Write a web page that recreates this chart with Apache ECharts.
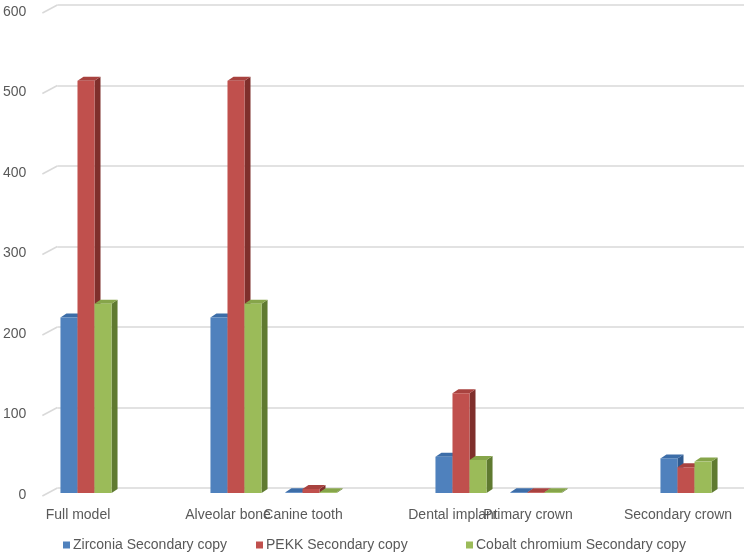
<!DOCTYPE html>
<html>
<head>
<meta charset="utf-8">
<script src="https://cdn.jsdelivr.net/npm/echarts@6/dist/echarts.min.js"></script>
<style>
  html, body { margin: 0; padding: 0; background: #fff; }
  #main { width: 744px; height: 555px; }
</style>
</head>
<body>
<div id="main"></div>
<script>
// categories as laid out in the source sheet (empty rows keep their slot)
const categories = ['Full model', '', 'Alveolar bone', 'Canine tooth', '', 'Dental implant', 'Primary crown', '', 'Secondary crown'];
const zirconia = [218, null, 218, 1, null, 45, 1, null, 43];
const pekk     = [512, null, 512, 5, null, 124, 1, null, 32];
const cobalt   = [235, null, 235, 1, null, 41, 1, null, 39];
const yTicks = [0, 100, 200, 300, 400, 500, 600];

const seriesNames = ['Zirconia Secondary copy', 'PEKK Secondary copy', 'Cobalt chromium Secondary copy'];
// front / side / top shades (Excel 2007 palette)
const shades = [
  ['#4F81BD', '#2F5A8F', '#3C6DA8'],
  ['#C0504D', '#7F2F2C', '#A8423F'],
  ['#9BBB59', '#5F7A30', '#86A54A']
];

const myChart = echarts.init(document.getElementById('main'));
const DX = 6, DY = 4, SHIFT = 5; // fake 3d depth

function barRender(s) {
  return function (params, api) {
    const idx = api.value(0);
    const val = api.value(1);
    const base = api.coord([idx, 0]);
    const top = api.coord([idx, val]);
    const band = api.size([1, 0])[0];
    const w = band * 0.227;
    const x0 = base[0] - 1.5 * w + s * w + 1;
    const yt = top[1] + SHIFT;
    const yb = base[1] + SHIFT;
    const c = shades[s];
    return {
      type: 'group',
      children: [
        { type: 'polygon', shape: { points: [[x0 + w, yt], [x0 + w + DX, yt - DY], [x0 + w + DX, yb - DY], [x0 + w, yb]] }, style: { fill: c[1] } },
        { type: 'polygon', shape: { points: [[x0, yt], [x0 + DX, yt - DY], [x0 + w + DX, yt - DY], [x0 + w, yt]] }, style: { fill: c[2] } },
        { type: 'rect', shape: { x: x0, y: yt, width: w, height: yb - yt }, style: { fill: c[0] } }
      ]
    };
  };
}

function toPoints(arr) {
  const out = [];
  arr.forEach((v, i) => { if (v != null) out.push([i, v]); });
  return out;
}

// one legend entry each, placed like the original
const legendLeft = [63, 256, 466];
const legends = seriesNames.map((n, i) => ({
  left: legendLeft[i],
  bottom: 3,
  padding: 0,
  icon: 'rect',
  itemWidth: 7,
  itemHeight: 7,
  textStyle: { color: '#595959', fontSize: 14, fontFamily: 'Liberation Sans', padding: [0, 0, 0, -2] },
  data: [n]
}));

const option = {
  backgroundColor: '#fff',
  animation: false,
  textStyle: { fontFamily: 'Liberation Sans' },
  grid: [
    { left: 57, right: 0, top: 5, bottom: 67 },        // back wall
    { left: 47.5, right: 21.5, top: 5, bottom: 67 }    // bars
  ],
  legend: legends,
  xAxis: [
    { gridIndex: 0, type: 'value', min: 0, max: 1, show: false },
    {
      gridIndex: 1, type: 'category', data: categories,
      axisLine: { show: false }, axisTick: { show: false },
      axisLabel: { color: '#595959', fontSize: 14, margin: 20, interval: 0, padding: [0, 14, 0, 0] }
    }
  ],
  yAxis: [
    {
      gridIndex: 0, type: 'value', min: 0, max: 600, interval: 100,
      axisLine: { show: false }, axisTick: { show: false },
      splitLine: { lineStyle: { color: '#D9D9D9', width: 1.5 } },
      axisLabel: { color: '#595959', fontSize: 14, margin: 31, verticalAlign: 'top' }
    },
    { gridIndex: 1, type: 'value', min: 0, max: 600, interval: 100, show: false }
  ],
  series: [
    {
      type: 'custom', xAxisIndex: 0, yAxisIndex: 0, silent: true,
      data: yTicks.map(v => [0, v]),
      renderItem: function (params, api) {
        const p = api.coord([0, api.value(1)]);
        return { type: 'line', shape: { x1: p[0] - 15, y1: p[1] + 8, x2: p[0], y2: p[1] }, style: { stroke: '#D9D9D9', lineWidth: 1.5 } };
      }
    }
  ].concat([zirconia, pekk, cobalt].map((arr, s) => ({
    name: seriesNames[s],
    type: 'custom',
    xAxisIndex: 1, yAxisIndex: 1,
    itemStyle: { color: shades[s][0] },
    data: toPoints(arr),
    renderItem: barRender(s)
  })))
};

myChart.setOption(option);
</script>
</body>
</html>
